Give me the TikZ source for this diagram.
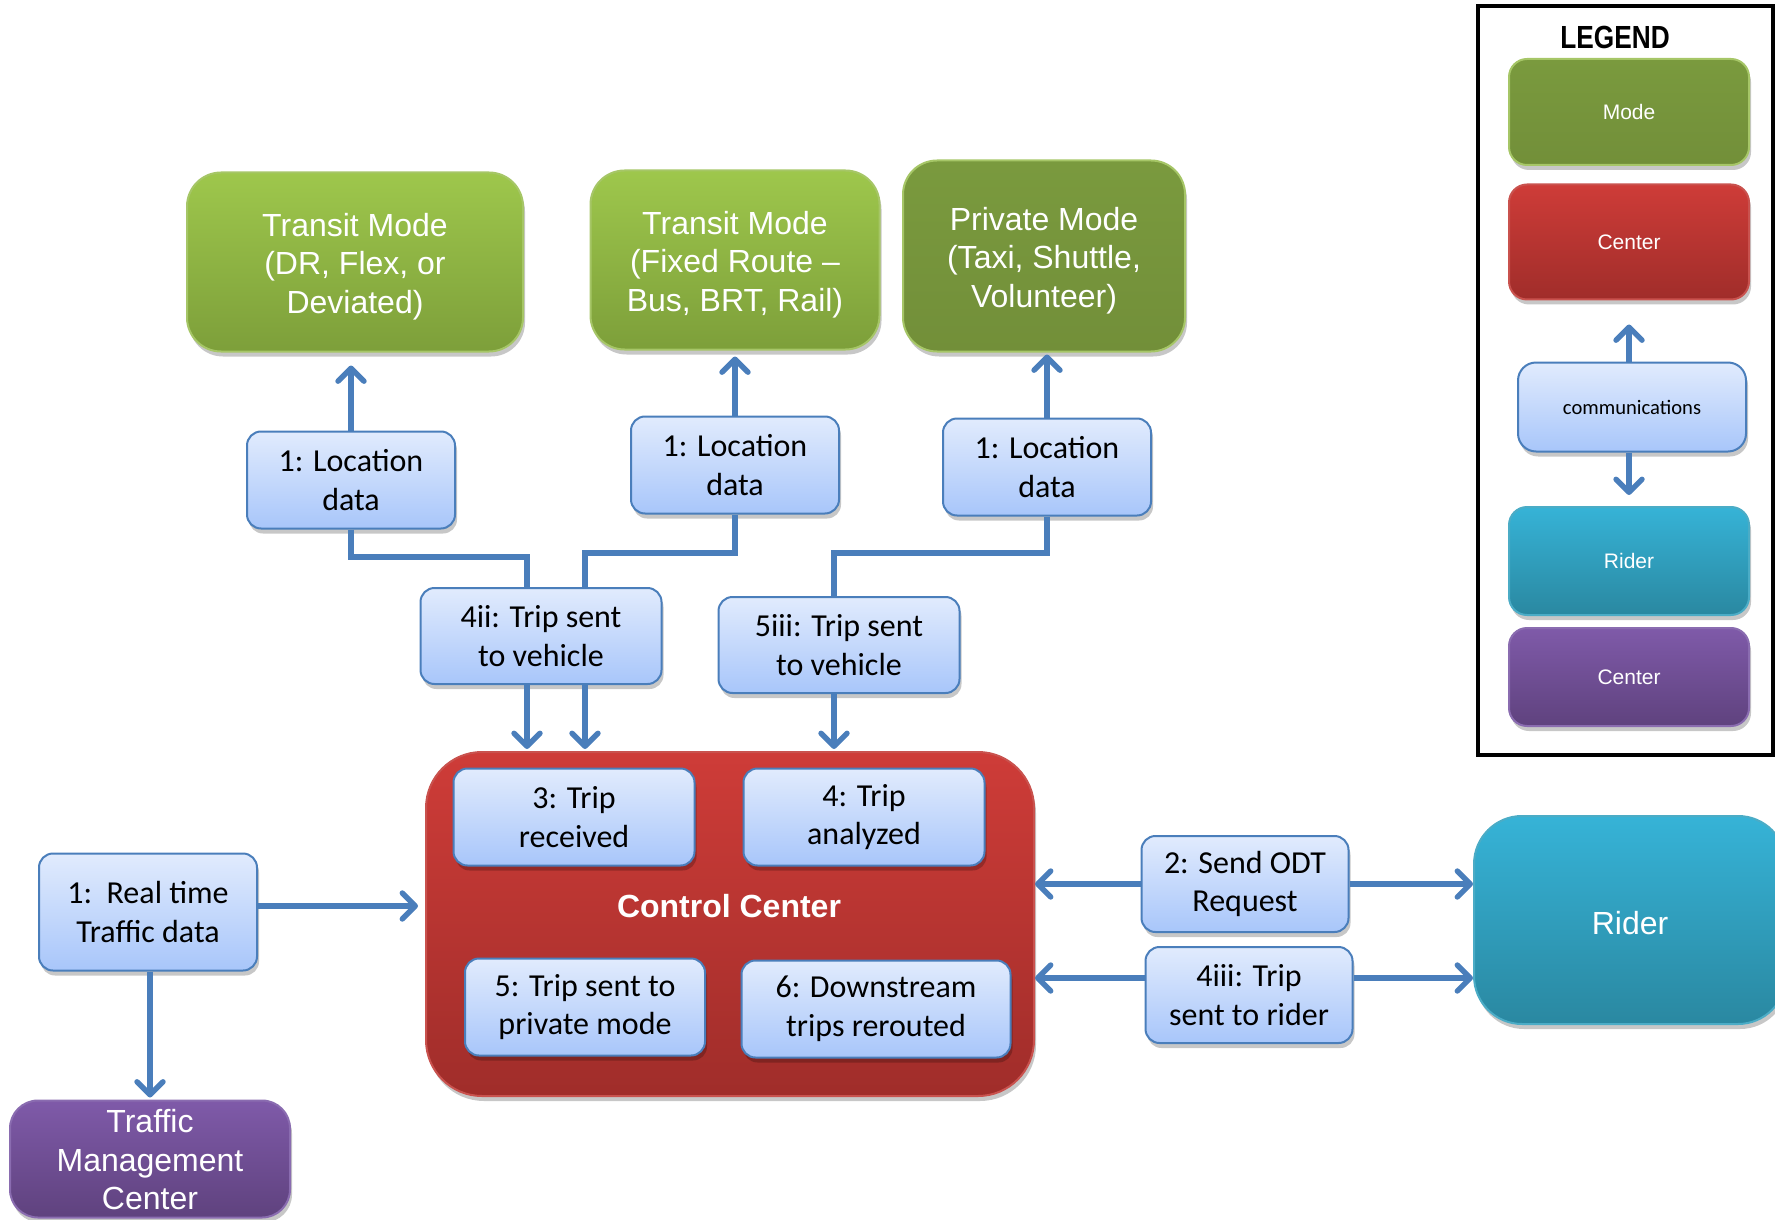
\documentclass[tikz,border=0pt]{standalone}
\usepackage{fontspec}
\usepackage{graphicx}
\setmainfont{Liberation Sans}
\newfontfamily\calibrifont{Carlito}
\usetikzlibrary{arrows.meta,shadows,calc}

% lines of a coloured box, set a little below the optical centre
\newcommand\boxlines[2][2.6pt]{\raisebox{-#1}[\height][\depth]{\begin{tabular}{@{}c@{}}#2\end{tabular}}}

\definecolor{bluetop}{HTML}{E1EBFD}
\definecolor{bluebot}{HTML}{A8C6FA}
\definecolor{blueline}{HTML}{4A7EBB}
\definecolor{flowblue}{HTML}{4A7EBB}
\definecolor{grtop}{HTML}{9EC74C}
\definecolor{grbot}{HTML}{7D9F3A}
\definecolor{grline}{HTML}{A6C667}
\definecolor{olvtop}{HTML}{7A9A3E}
\definecolor{olvbot}{HTML}{728F39}
\definecolor{redtop}{HTML}{CE3C38}
\definecolor{redbot}{HTML}{A02D2A}
\definecolor{redline}{HTML}{C9524E}
\definecolor{tealtop}{HTML}{36B3D7}
\definecolor{tealbot}{HTML}{2A88A1}
\definecolor{tealline}{HTML}{4BACC6}
\definecolor{purptop}{HTML}{7F5AA9}
\definecolor{purpbot}{HTML}{5F427E}
\definecolor{purpline}{HTML}{8A6CB0}

\tikzset{
  softshadow/.style={drop shadow={shadow xshift=1pt, shadow yshift=-2.5pt, opacity=.22, fill=black}},
  msgbox/.style={draw=blueline, line width=1pt, rounded corners=7pt,
    top color=bluetop, bottom color=bluebot, align=center, text=black,
    inner sep=0pt, font=\calibrifont\fontsize{16}{19.3}\selectfont, softshadow},
  colbox/.style={line width=1pt, align=center, text=white, inner sep=0pt,
    font=\fontsize{16}{19.3}\selectfont, softshadow},
  modebox/.style={colbox, draw=grline, rounded corners=17pt},
  legbox/.style={colbox, rounded corners=9pt, minimum width=120pt,
    font=\fontsize{10.5}{12.5}\selectfont},
  flow/.style={draw=flowblue, line width=2.7pt,
    -{Straight Barb[length=6.5pt,width=13pt,round]}},
  link/.style={draw=flowblue, line width=2.7pt},
}

\begin{document}
\begin{tikzpicture}[x=0.5pt,y=-0.5pt]
\useasboundingbox (0,0) rectangle (1775,1219);

% ---- modes ----
\node[modebox, top color=grtop, bottom color=grbot, minimum width=168pt, minimum height=89.5pt]
  (dr) at (355,262) {\boxlines{Transit Mode\\(DR, Flex, or\\Deviated)}};
\node[modebox, top color=grtop, bottom color=grbot, minimum width=144.5pt, minimum height=89.5pt]
  (fixed) at (735,260) {\boxlines{Transit Mode\\(Fixed Route --\\Bus, BRT, Rail)}};
\node[modebox, top color=olvtop, bottom color=olvbot, minimum width=141pt, minimum height=95.5pt]
  (priv) at (1044,256) {\boxlines{Private Mode\\(Taxi, Shuttle,\\Volunteer)}};

% ---- location data ----
\node[msgbox, minimum width=104pt, minimum height=48.5pt] (loc1) at (351,480) {1: Location\\data};
\node[msgbox, minimum width=104pt, minimum height=48.5pt] (loc2) at (735,465) {1: Location\\data};
\node[msgbox, minimum width=104pt, minimum height=48.5pt] (loc3) at (1047,467) {1: Location\\data};

% ---- trips sent to vehicles ----
\node[msgbox, minimum width=120.5pt, minimum height=48pt] (veh4) at (541,636) {4ii: Trip sent\\to vehicle};
\node[msgbox, minimum width=120.5pt, minimum height=48pt] (veh5) at (839,645) {5iii: Trip sent\\to vehicle};

% ---- control center ----
\node[colbox, draw=redline, rounded corners=28pt, top color=redtop, bottom color=redbot,
  minimum width=304pt, minimum height=172pt] (cc) at (730,924) {};
\node[font=\bfseries\fontsize{16}{19.3}\selectfont, text=white] (cclabel) at (729,906) {Control Center};
\node[msgbox, minimum width=120.5pt, minimum height=48.5pt] (trec) at (574,817) {3: Trip\\received};
\node[msgbox, minimum width=120.5pt, minimum height=48.5pt] (tana) at (864,817) {4: Trip\\analyzed};
\node[msgbox, minimum width=120pt, minimum height=48.5pt] (tpriv) at (585,1007) {5: Trip sent to\\private mode};
\node[msgbox, minimum width=134.5pt, minimum height=48.5pt] (tdown) at (876,1009) {6: Downstream\\trips rerouted};

% ---- traffic ----
\node[msgbox, minimum width=109pt, minimum height=58.5pt] (rtt) at (148,912) {1:\ \ Real time\\Traffic data};
\node[colbox, draw=purpline, rounded corners=14pt, top color=purptop, bottom color=purpbot,
  minimum width=140pt, minimum height=58.5pt] (tmc) at (150,1159) {\boxlines[2.2pt]{Traffic\\Management\\Center}};

% ---- rider ----
\node[msgbox, minimum width=103.5pt, minimum height=48pt] (odt) at (1245,884) {2: Send ODT\\Request};
\node[msgbox, minimum width=103.5pt, minimum height=48pt] (trider) at (1249,995) {4iii: Trip\\sent to rider};
\node[colbox, draw=tealline, rounded corners=24pt, top color=tealtop, bottom color=tealbot,
  minimum width=156pt, minimum height=104pt] (rider) at (1630,920) {\boxlines[3.2pt]{Rider}};

% ---- connectors ----
\draw[flow, shorten >=6.5pt] (loc1.north) -- (loc1.north |- dr.south);
\draw[flow, shorten >=3pt] (loc2.north) -- (loc2.north |- fixed.south);
\draw[flow, shorten >=1pt] (loc3.north) -- (loc3.north |- priv.south);

\coordinate (j1) at (527,557);
\coordinate (j2) at (585,553);
\coordinate (j3) at (834,553);
\draw[link] (loc1.south) |- (j1) -- (j1 |- veh4.north);
\draw[link] (loc2.south) |- (j2) -- (j2 |- veh4.north);
\draw[link] (loc3.south) |- (j3) -- (j3 |- veh5.north);
\draw[flow, shorten >=1pt] (j1 |- veh4.south) -- (j1 |- cc.north);
\draw[flow, shorten >=1pt] (j2 |- veh4.south) -- (j2 |- cc.north);
\draw[flow, shorten >=1pt] (j3 |- veh5.south) -- (j3 |- cc.north);

\coordinate (rt) at (148,906);
\draw[flow, shorten >=3.5pt] (rt -| rtt.east) -- (rt -| cc.west);
\draw[flow, shorten >=1pt] (rtt.south -| 150,0) -- (tmc.north);

\draw[flow] (odt.west) -- (odt.west -| cc.east);
\draw[flow] (odt.east) -- (odt.east -| rider.west);
\coordinate (r4) at (1249,978);
\draw[flow] (r4 -| trider.west) -- (r4 -| cc.east);
\draw[flow] (r4 -| trider.east) -- (r4 -| rider.west);

% ---- legend ----
\draw[line width=2.4pt] (1478,6) rectangle (1773,755);
\node[font=\bfseries\fontsize{16}{19}\selectfont] (legtitle) at (1615,37) {\scalebox{0.82}[1]{LEGEND}};
\node[legbox, draw=grline, top color=olvtop, bottom color=olvbot, minimum height=53pt] (lgmode) at (1629,112) {Mode};
\node[legbox, draw=redline, top color=redtop, bottom color=redbot, minimum height=57.5pt] (lgcenter) at (1629,242) {Center};
\node[msgbox, rounded corners=9pt, minimum width=114pt, minimum height=44.5pt,
  font=\calibrifont\fontsize{10.3}{12}\selectfont] (lgcomm) at (1632,407) {communications};
\node[legbox, draw=tealline, top color=tealtop, bottom color=tealbot, minimum height=54pt] (lgrider) at (1629,561) {Rider};
\node[legbox, draw=purpline, top color=purptop, bottom color=purpbot, minimum height=49pt] (lgtmc) at (1629,677) {Center};
\draw[flow, shorten >=12pt] (lgcenter.south |- lgcomm.north) -- (lgcenter.south);
\draw[flow, shorten >=5.5pt] (lgcenter.south |- lgcomm.south) -- (lgrider.north);
\end{tikzpicture}
\end{document}
